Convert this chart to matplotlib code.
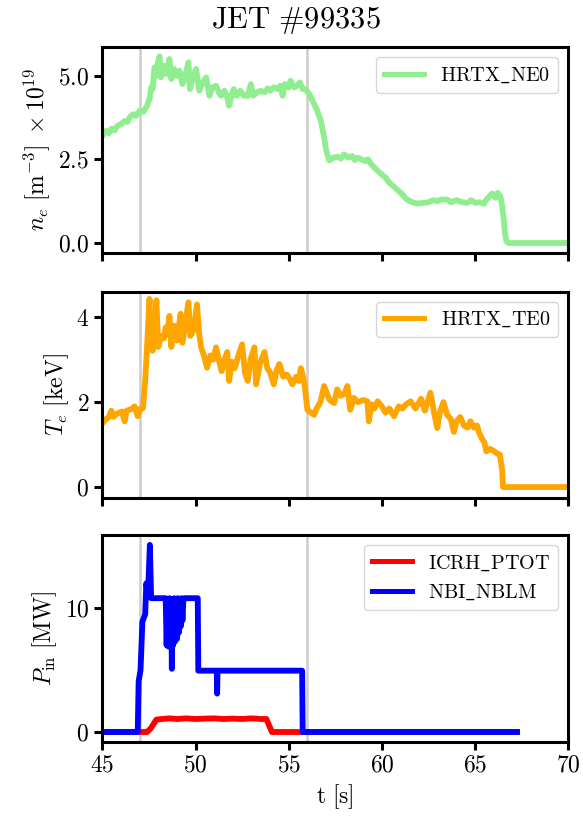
import matplotlib
matplotlib.use("Agg")
import matplotlib.pyplot as plt
import numpy as np

plt.rcParams['font.family'] = 'serif'
plt.rcParams['font.serif'] = ['cmr10']
plt.rcParams['mathtext.fontset'] = 'cm'
plt.rcParams['axes.formatter.use_mathtext'] = True

# ---------------- data ----------------
ne_t = [45.0, 45.2, 45.35, 45.5, 45.65, 45.8, 46.0, 46.2, 46.35, 46.5, 46.65, 46.8, 47.0, 47.2,
        47.4, 47.55, 47.62, 47.7, 47.8, 47.9, 48.0, 48.07, 48.15, 48.3, 48.45, 48.6, 48.7, 48.85,
        49.0, 49.14, 49.3, 49.45, 49.62, 49.7, 49.85, 50.03, 50.2, 50.4, 50.57, 50.75, 50.9, 51.1,
        51.25, 51.37, 51.55, 51.7, 51.8, 51.95, 52.05, 52.2, 52.4, 52.6, 52.8, 52.97, 53.1, 53.3,
        53.5, 53.7, 53.87, 54.0, 54.2, 54.4, 54.55, 54.67, 54.8, 55.0, 55.1, 55.3, 55.45, 55.6,
        55.75, 55.9, 56.1, 56.36, 56.5, 56.72, 56.9, 57.0, 57.17, 57.4, 57.6, 57.8, 57.97, 58.2, 58.4,
        58.55, 58.69, 58.9, 59.1, 59.25, 59.4, 59.6, 59.94, 60.2, 60.4, 60.65, 60.9, 61.1, 61.3, 61.5, 61.72,
        62.0, 62.25, 62.5, 62.75, 62.97, 63.2, 63.5, 63.7, 64.0, 64.3, 64.58, 64.8, 65.0, 65.25,
        65.47, 65.6, 65.75, 65.91, 66.1, 66.2, 66.36, 66.45, 66.54, 66.6, 66.68, 66.8, 70.0]
ne_v = [3.2, 3.35, 3.28, 3.42, 3.36, 3.5, 3.55, 3.65, 3.62, 3.78, 3.85, 3.8, 3.95, 3.92,
        4.1, 4.35, 4.65, 4.6, 5.25, 5.0, 5.45, 5.58, 4.95, 5.3, 5.05, 5.5, 4.9, 5.2,
        5.0, 5.15, 4.75, 5.0, 5.4, 4.6, 4.95, 5.2, 4.55, 4.8, 4.95, 4.4, 4.65, 4.7,
        4.5, 4.4, 4.55, 4.35, 4.1, 4.45, 4.6, 4.4, 4.55, 4.4, 4.4, 4.75, 4.4, 4.5,
        4.55, 4.5, 4.62, 4.55, 4.65, 4.6, 4.7, 4.4, 4.75, 4.65, 4.85, 4.65, 4.7, 4.8,
        4.6, 4.6, 4.45, 4.16, 4.0, 3.66, 3.16, 2.8, 2.47, 2.55, 2.58, 2.52, 2.65, 2.55, 2.6,
        2.48, 2.55, 2.5, 2.45, 2.5, 2.37, 2.25, 2.07, 1.95, 1.8, 1.68, 1.55, 1.45, 1.32, 1.25, 1.2,
        1.18, 1.2, 1.22, 1.28, 1.25, 1.3, 1.3, 1.22, 1.28, 1.22, 1.2, 1.28, 1.2, 1.22,
        1.17, 1.3, 1.38, 1.48, 1.35, 1.5, 1.4, 1.1, 0.68, 0.3, 0.05, 0.0, 0.0]

te_t = [45.0, 45.2, 45.35, 45.48, 45.6, 45.75, 45.9, 46.05, 46.2, 46.3, 46.45, 46.6, 46.73, 46.9,
        47.05, 47.18, 47.3, 47.4, 47.53, 47.62, 47.7, 47.8, 47.9, 48.0, 48.15, 48.3, 48.4, 48.5,
        48.6, 48.7, 48.85, 49.0, 49.2, 49.3, 49.45, 49.62, 49.72, 49.9, 50.08, 50.2, 50.3, 50.45,
        50.62, 50.8, 50.95, 51.1, 51.25, 51.4, 51.55, 51.7, 51.8, 51.95, 52.1, 52.3, 52.5, 52.65,
        52.8, 52.95, 53.16, 53.25, 53.45, 53.7, 53.85, 54.0, 54.2, 54.35, 54.5, 54.7, 54.9, 55.05,
        55.2, 55.4, 55.55, 55.65, 55.8, 55.87, 56.0, 56.2, 56.36, 56.5, 56.7, 56.9, 57.05, 57.2,
        57.44, 57.6, 57.8, 58.0, 58.15, 58.3, 58.5, 58.7, 59.0, 59.22, 59.3, 59.45, 59.6, 59.77,
        60.0, 60.2, 60.4, 60.65, 60.9, 61.1, 61.3, 61.54, 61.8, 62.1, 62.3, 62.6, 62.8, 62.97,
        63.1, 63.3, 63.5, 63.7, 63.86, 64.0, 64.2, 64.4, 64.6, 64.75, 64.93, 65.1, 65.2, 65.35,
        65.5, 65.6, 65.8, 66.0, 66.15, 66.33, 66.45, 66.5, 70.0]
te_v = [1.5, 1.6, 1.65, 1.8, 1.65, 1.72, 1.75, 1.78, 1.55, 1.8, 1.82, 1.85, 1.9, 1.67,
        1.85, 1.86, 2.5, 3.3, 4.43, 3.5, 3.21, 3.6, 4.4, 3.3, 3.55, 3.5, 3.76, 3.6,
        4.03, 3.3, 3.8, 3.45, 4.08, 3.4, 3.85, 4.35, 3.56, 3.7, 4.3, 3.6, 3.29, 3.1,
        2.81, 3.1, 3.0, 3.29, 3.0, 2.73, 3.0, 3.18, 2.5, 2.95, 2.8, 3.1, 3.36, 2.7,
        2.5, 3.0, 3.29, 2.42, 2.9, 3.18, 2.8, 2.7, 2.42, 2.75, 2.9, 2.6, 2.65, 2.55,
        2.42, 2.6, 2.5, 2.8, 2.55, 2.34, 1.82, 1.75, 1.7, 1.85, 2.0, 2.38, 2.2, 2.05,
        1.98, 2.3, 2.15, 2.2, 2.38, 1.82, 2.1, 2.0, 2.05, 2.02, 1.55, 1.95, 1.85, 2.02,
        1.9, 1.75, 1.85, 1.67, 1.9, 1.85, 1.95, 2.02, 1.85, 2.08, 1.8, 2.22, 1.75, 1.39,
        1.75, 2.0, 1.7, 1.6, 1.3, 1.55, 1.65, 1.45, 1.4, 1.55, 1.4, 1.45, 1.3, 1.15,
        1.05, 0.84, 0.9, 0.85, 0.8, 0.76, 0.4, 0.0, 0.0]

icrh_t = [45.0, 47.4, 47.6, 47.9, 48.2, 48.6, 49.0, 49.5, 50.0, 50.5, 51.0, 51.5, 52.0, 52.5,
          53.0, 53.5, 53.8, 54.1, 67.2]
icrh_v = [0.0, 0.0, 0.3, 1.0, 1.05, 1.1, 1.05, 1.1, 1.05, 1.08, 1.1, 1.05, 1.08, 1.05,
          1.1, 1.05, 1.05, 0.0, 0.0]

nbi_t = [45.0, 46.9, 46.95, 47.05, 47.15, 47.3, 47.36, 47.45, 47.55, 47.62, 48.4, 48.45, 48.5,
         48.55, 48.6, 48.65, 48.7, 48.73, 48.76, 48.8, 48.85, 48.9, 48.95, 49.0, 49.05, 49.1,
         49.15, 49.2, 49.25, 49.3, 49.35, 49.4, 50.12, 50.15, 51.14, 51.16, 51.18, 55.72, 55.75,
         67.25]
nbi_v = [0.0, 0.0, 4.1, 5.0, 8.9, 9.5, 12.0, 11.0, 15.1, 10.8, 10.8, 7.0, 10.7,
         6.9, 10.8, 7.2, 10.6, 5.1, 10.7, 7.0, 10.8, 7.3, 10.7, 7.5, 10.8, 8.0,
         10.7, 8.5, 10.8, 9.0, 10.7, 10.8, 10.8, 4.95, 4.95, 3.1, 4.95, 4.95, 0.0,
         0.0]

vlines_t = [47.0, 56.0]
xticks = [45, 50, 55, 60, 65, 70]

# ---------------- figure ----------------
fig = plt.figure(figsize=(5.83, 8.25), dpi=100)
L, W = 0.1755, 0.7993
ax1 = fig.add_axes([L, 0.6937, W, 0.249])
ax2 = fig.add_axes([L, 0.3967, W, 0.2497], sharex=ax1)
ax3 = fig.add_axes([L, 0.1010, W, 0.2505], sharex=ax1)

lw = 4.2
ax1.plot(ne_t, ne_v, color='lightgreen', lw=lw, label=r'$\mathrm{HRTX\_NE0}$')
ax2.plot(te_t, te_v, color='orange', lw=lw, label=r'$\mathrm{HRTX\_TE0}$')
ax3.plot(icrh_t, icrh_v, color='red', lw=lw, label=r'$\mathrm{ICRH\_PTOT}$')
ax3.plot(nbi_t, nbi_v, color='blue', lw=lw, label=r'$\mathrm{NBI\_NBLM}$')

for ax in (ax1, ax2, ax3):
    for v in vlines_t:
        ax.axvline(v, color='#cccccc', lw=1.8, zorder=0)
    for s in ax.spines.values():
        s.set_linewidth(2.2)
    ax.tick_params(direction='out', length=6, width=2.2, labelsize=17)
    leg = ax.legend(loc='upper right', fontsize=14.5, fancybox=True, framealpha=0.8,
                    edgecolor='#cccccc')
    for h in leg.get_lines():
        h.set_linewidth(3.6)

ax1.set_xlim(45, 70)
ax1.set_xticks(xticks)
ax1.set_ylim(-0.29, 5.85)
ax1.set_yticks([0.0, 2.5, 5.0])
ax1.set_yticklabels([r'$0.0$', r'$2.5$', r'$5.0$'])
ax2.set_ylim(-0.25, 4.6)
ax2.set_yticks([0, 2, 4])
ax2.set_yticklabels([r'$0$', r'$2$', r'$4$'])
ax3.set_ylim(-0.78, 15.9)
ax3.set_yticks([0, 10])
ax3.set_yticklabels([r'$0$', r'$10$'])
ax3.set_xticklabels([r'$%d$' % x for x in xticks])
plt.setp(ax1.get_xticklabels(), visible=False)
plt.setp(ax2.get_xticklabels(), visible=False)

ax1.set_ylabel(r'$n_e\ [\mathrm{m}^{-3}]\ \times 10^{19}$', fontsize=17)
ax2.set_ylabel(r'$T_e\ [\mathrm{keV}]$', fontsize=17)
ax3.set_ylabel(r'$P_{\mathrm{in}}\ [\mathrm{MW}]$', fontsize=17)
ax3.set_xlabel(r'$\mathrm{t\ [s]}$', fontsize=17)
fig.align_ylabels([ax1, ax2, ax3])

fig.text(0.508, 1 - 28 / 825, r'$\mathrm{JET\ \#99335}$', ha='center', va='baseline', fontsize=22)

fig.savefig('out.png', dpi=100)
